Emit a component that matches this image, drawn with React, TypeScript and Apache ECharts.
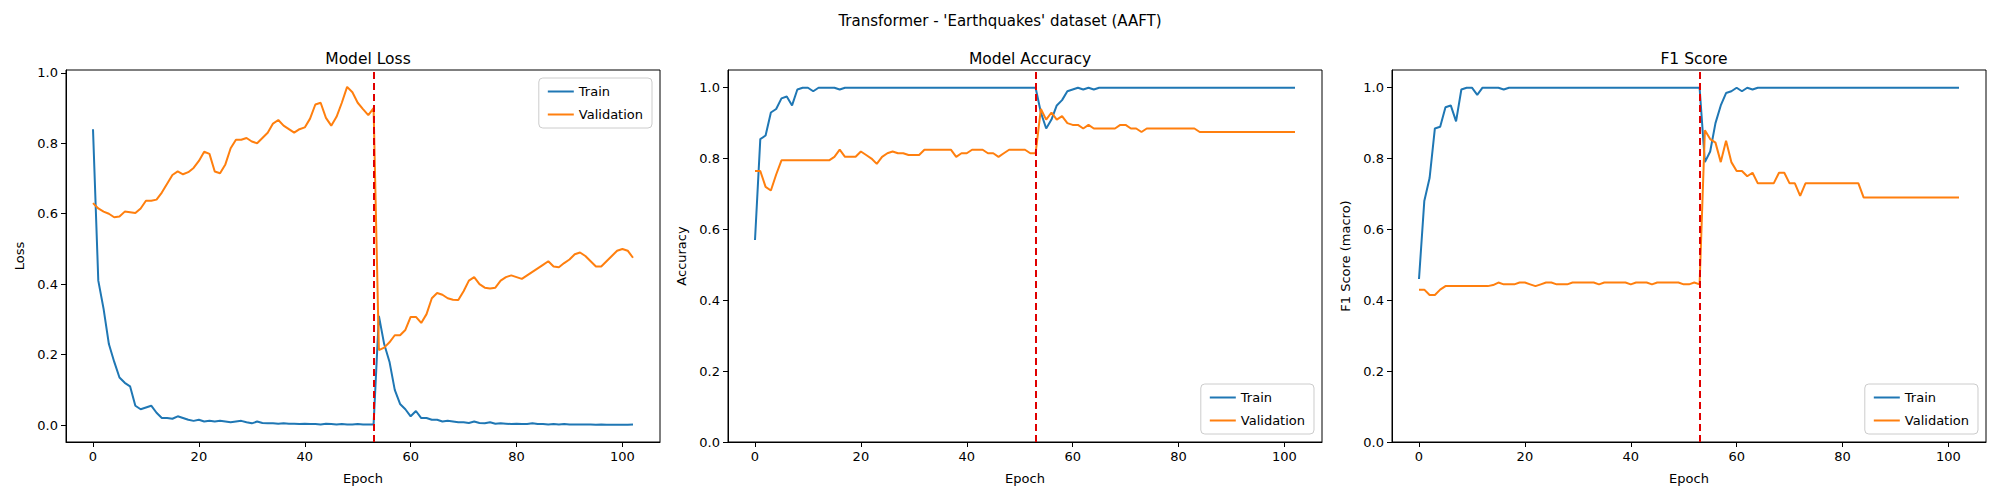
import React, { useEffect, useRef } from "react";
import * as echarts from "echarts";

const lossTrain = [0.84,0.41,0.33,0.23,0.18,0.135,0.12,0.11,0.055,0.045,0.05,0.055,0.035,0.02,0.02,0.018,0.025,0.02,0.015,0.012,0.015,0.01,0.012,0.01,0.012,0.01,0.008,0.01,0.012,0.008,0.005,0.01,0.006,0.005,0.005,0.004,0.005,0.004,0.004,0.003,0.004,0.003,0.003,0.002,0.004,0.003,0.002,0.003,0.002,0.002,0.003,0.002,0.002,0.002,
0.31,0.23,0.18,0.1,0.06,0.045,0.025,0.04,0.02,0.02,0.015,0.015,0.01,0.012,0.01,0.008,0.008,0.006,0.01,0.006,0.005,0.008,0.004,0.005,0.004,0.003,0.004,0.003,0.003,0.005,0.003,0.003,0.002,0.003,0.002,0.003,0.002,0.002,0.002,0.002,0.002,0.001,0.002,0.001,0.001,0.001,0.001,0.001,0.002];
const lossVal = [0.63,0.615,0.606,0.6,0.59,0.592,0.606,0.604,0.602,0.615,0.637,0.637,0.64,0.66,0.685,0.71,0.72,0.712,0.718,0.73,0.75,0.776,0.77,0.72,0.715,0.74,0.786,0.81,0.81,0.815,0.805,0.8,0.815,0.83,0.856,0.866,0.85,0.84,0.83,0.84,0.845,0.87,0.91,0.915,0.872,0.85,0.875,0.915,0.96,0.945,0.915,0.897,0.88,0.9,
0.213,0.22,0.235,0.255,0.255,0.27,0.307,0.307,0.29,0.315,0.36,0.375,0.37,0.36,0.356,0.355,0.38,0.41,0.42,0.4,0.39,0.388,0.39,0.41,0.42,0.425,0.42,0.415,0.425,0.435,0.445,0.455,0.465,0.45,0.448,0.46,0.47,0.485,0.49,0.48,0.465,0.45,0.45,0.465,0.48,0.495,0.5,0.495,0.475];
const accTrain = [0.57,0.855,0.865,0.93,0.94,0.97,0.975,0.95,0.995,1,1,0.99,1,1,1,1,0.995,1,1,1,1,1,1,1,1,1,1,1,1,1,1,1,1,1,1,1,1,1,1,1,1,1,1,1,1,1,1,1,1,1,1,1,1,1,
0.93,0.885,0.91,0.95,0.965,0.99,0.995,1,0.995,1,0.995,1,1,1,1,1,1,1,1,1,1,1,1,1,1,1,1,1,1,1,1,1,1,1,1,1,1,1,1,1,1,1,1,1,1,1,1,1,1];
const accVal = [0.765,0.765,0.72,0.71,0.755,0.795,0.795,0.795,0.795,0.795,0.795,0.795,0.795,0.795,0.795,0.805,0.825,0.805,0.805,0.805,0.82,0.81,0.8,0.785,0.805,0.815,0.82,0.815,0.815,0.81,0.81,0.81,0.825,0.825,0.825,0.825,0.825,0.825,0.805,0.815,0.815,0.825,0.825,0.825,0.815,0.815,0.805,0.815,0.825,0.825,0.825,0.825,0.815,0.815,
0.94,0.91,0.93,0.91,0.92,0.9,0.895,0.895,0.885,0.895,0.885,0.885,0.885,0.885,0.885,0.895,0.895,0.885,0.885,0.875,0.885,0.885,0.885,0.885,0.885,0.885,0.885,0.885,0.885,0.885,0.875,0.875,0.875,0.875,0.875,0.875,0.875,0.875,0.875,0.875,0.875,0.875,0.875,0.875,0.875,0.875,0.875,0.875,0.875];
const f1Train = [0.46,0.68,0.745,0.885,0.89,0.945,0.95,0.905,0.995,1,1,0.98,1,1,1,1,0.995,1,1,1,1,1,1,1,1,1,1,1,1,1,1,1,1,1,1,1,1,1,1,1,1,1,1,1,1,1,1,1,1,1,1,1,1,1,
0.79,0.82,0.9,0.95,0.985,0.99,1,0.99,1,0.995,1,1,1,1,1,1,1,1,1,1,1,1,1,1,1,1,1,1,1,1,1,1,1,1,1,1,1,1,1,1,1,1,1,1,1,1,1,1,1];
const f1Val = [0.43,0.43,0.415,0.415,0.43,0.44,0.44,0.44,0.44,0.44,0.44,0.44,0.44,0.44,0.443,0.45,0.445,0.445,0.445,0.45,0.45,0.445,0.44,0.445,0.45,0.45,0.445,0.445,0.445,0.45,0.45,0.45,0.45,0.45,0.445,0.45,0.45,0.45,0.45,0.45,0.445,0.45,0.45,0.45,0.445,0.45,0.45,0.45,0.45,0.45,0.445,0.445,0.45,0.445,
0.88,0.855,0.845,0.79,0.85,0.79,0.765,0.765,0.75,0.76,0.73,0.73,0.73,0.73,0.76,0.76,0.73,0.73,0.695,0.73,0.73,0.73,0.73,0.73,0.73,0.73,0.73,0.73,0.73,0.73,0.69,0.69,0.69,0.69,0.69,0.69,0.69,0.69,0.69,0.69,0.69,0.69,0.69,0.69,0.69,0.69,0.69,0.69,0.69];
const xTicks = [0, 20, 40, 60, 80, 100];
const yTicks = [0, 0.2, 0.4, 0.6, 0.8, 1.0];
const switchEpoch = 53;

const FONT = "DejaVu Sans";
const BLUE = "#1f77b4";
const ORANGE = "#ff7f0e";

export default function App() {
  const ref = useRef<HTMLDivElement>(null);
  useEffect(() => {
    document.body.style.margin = "0";
    const chart = echarts.init(ref.current!, null, { renderer: "svg" });
    const panels = [
      { title: "Model Loss", yName: "Loss", tr: lossTrain, va: lossVal, ymin: -0.048, ymax: 1.008, left: 66, legTop: true },
      { title: "Model Accuracy", yName: "Accuracy", tr: accTrain, va: accVal, ymin: 0, ymax: 1.05, left: 728, legTop: false },
      { title: "F1 Score", yName: "F1 Score (macro)", tr: f1Train, va: f1Val, ymin: 0, ymax: 1.05, left: 1392, legTop: false },
    ];
    const W = 594;
    const top = 70, h = 372;
    const ax = { lineStyle: { color: "#000" } };
    const lbl = { color: "#000", fontFamily: FONT, fontSize: 13 };
    const option: any = {
      animation: false,
      textStyle: { fontFamily: FONT },
      title: [
        { text: "Transformer - 'Earthquakes' dataset (AAFT)", left: "center", top: 8, textStyle: { fontFamily: FONT, fontSize: 15, fontWeight: "normal", color: "#000" } },
        ...panels.map((p) => ({ text: p.title, left: p.left + W / 2, textAlign: "center", top: 46, textStyle: { fontFamily: FONT, fontSize: 15.5, fontWeight: "normal", color: "#000" } })),
      ],
      grid: panels.map((p) => ({ left: p.left, top, width: W, height: h, show: true, borderColor: "#000", borderWidth: 1 })),
      xAxis: panels.map((_, i) => ({
        type: "value", gridIndex: i, min: -5.1, max: 107.1,
        name: "Epoch", nameLocation: "middle", nameGap: 30, nameTextStyle: lbl,
        axisLine: { show: true, onZero: false, ...ax }, splitLine: { show: false },
        axisTick: { show: true, customValues: xTicks, ...ax },
        axisLabel: { ...lbl, customValues: xTicks, showMinLabel: true, showMaxLabel: true },
      })),
      yAxis: panels.map((p, i) => ({
        type: "value", gridIndex: i, min: p.ymin, max: p.ymax,
        name: p.yName, nameLocation: "middle", nameGap: 40, nameTextStyle: lbl,
        axisLine: { show: true, onZero: false, ...ax }, splitLine: { show: false },
        axisTick: { show: true, customValues: yTicks, ...ax },
        axisLabel: { ...lbl, customValues: yTicks, formatter: (v: number) => v.toFixed(1) },
      })),
      legend: panels.map((p) => ({
        data: [{ name: "Train", itemStyle: { color: BLUE } }, { name: "Validation", itemStyle: { color: ORANGE } }],
        orient: "vertical", icon: "rect", itemWidth: 26, itemHeight: 2, itemGap: 10,
        right: 2000 - (p.left + W) + 8,
        ...(p.legTop ? { top: top + 8 } : { bottom: 500 - (top + h) + 8 }),
        borderColor: "#ccc", borderWidth: 1, borderRadius: 4, padding: [7, 9, 7, 9], backgroundColor: "rgba(255,255,255,0.8)",
        textStyle: { fontFamily: FONT, fontSize: 13, color: "#000" },
      })),
      series: panels.flatMap((p, i) => [
        {
          name: "Train", type: "line", xAxisIndex: i, yAxisIndex: i, showSymbol: false, symbol: "none",
          data: p.tr.map((v, k) => [k, v]), lineStyle: { color: BLUE, width: 2 }, itemStyle: { color: BLUE }, z: 3,
        },
        {
          name: "Validation", type: "line", xAxisIndex: i, yAxisIndex: i, showSymbol: false, symbol: "none",
          data: p.va.map((v, k) => [k, v]), lineStyle: { color: ORANGE, width: 2 }, itemStyle: { color: ORANGE }, z: 4,
          markLine: {
            silent: true, symbol: "none", label: { show: false },
            lineStyle: { color: "#e00000", type: [7, 4], width: 2 },
            data: [{ xAxis: switchEpoch }],
          },
        },
      ]),
    };
    chart.setOption(option);
    return () => chart.dispose();
  }, []);
  return <div ref={ref} style={{ width: 2000, height: 500 }} />;
}
